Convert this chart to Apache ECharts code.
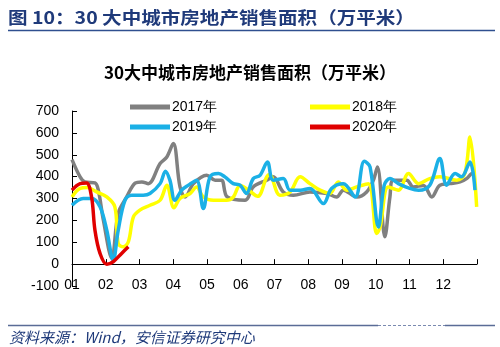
<!DOCTYPE html>
<html><head><meta charset="utf-8">
<script src="https://cdn.jsdelivr.net/npm/echarts@6/dist/echarts.min.js"></script>
<style>html,body{margin:0;padding:0;background:#fff}#c{width:500px;height:347px}</style>
</head><body><div id="c"></div>
<script>
// month positions (0 = start of Jan, 12 = end of Dec) and values (万平米)
const monthLabels = ['01','02','03','04','05','06','07','08','09','10','11','12'];
const yTicks = [-100,0,100,200,300,400,500,600,700];

const x2017 = [0,0.24,0.38,0.68,0.78,0.93,1.18,1.37,1.62,1.87,2.07,2.26,2.61,2.81,3.0,3.2,3.35,3.6,3.99,4.24,4.43,4.6,5.13,5.37,5.77,5.96,6.26,6.56,7.05,7.55,7.84,8.04,8.44,8.73,8.93,9.05,9.27,9.42,9.52,9.92,10.11,10.41,10.66,10.9,11.2,11.5,11.69,11.84,11.95];
const v2017 = [478,399,376,371,338,201,27,233,307,370,376,368,460,490,551,353,307,368,406,384,384,307,292,353,384,399,330,315,330,323,307,338,307,330,384,444,125,307,384,384,353,360,307,361,368,376,391,414,420];

const x2018 = [0,0.24,0.45,0.73,1.03,1.27,1.37,1.52,1.67,1.82,2.01,2.31,2.61,2.81,3.02,3.2,3.5,3.69,3.89,4.19,4.58,4.78,4.98,5.22,5.5,5.77,5.85,6.16,6.46,6.76,7.05,7.35,7.64,7.89,8.14,8.44,8.78,9.03,9.13,9.37,9.67,9.97,10.27,10.6,10.9,11.4,11.64,11.79,11.99];
const v2018 = [307,346,350,330,307,262,94,79,102,216,247,269,292,361,258,300,323,353,307,292,292,307,360,340,310,399,410,315,330,399,368,338,323,376,338,353,368,140,170,353,338,414,368,391,399,384,414,581,262];

const x2019 = [0,0.33,0.58,0.83,1.03,1.22,1.37,1.57,1.77,2.11,2.31,2.61,2.77,2.9,3.05,3.25,3.45,3.69,3.89,4.09,4.34,4.53,4.78,4.98,5.17,5.37,5.57,5.79,5.96,6.26,6.46,6.76,7.05,7.45,7.69,8.04,8.39,8.66,8.83,9.08,9.25,9.42,9.67,10.01,10.27,10.6,10.9,11.1,11.35,11.54,11.79,11.94];
const v2019 = [269,300,300,262,155,18,155,292,315,315,323,368,425,384,292,338,361,384,254,399,414,399,368,361,323,391,406,467,384,391,338,338,346,277,346,368,307,470,445,170,360,391,368,346,338,361,483,361,414,399,467,338];

const x2020 = [0,0.24,0.43,0.58,0.68,0.83,1.03,1.22,1.47,1.67];
const v2020 = [338,368,371,307,155,49,-1,11,49,79];

const pairs = (xs, vs) => xs.map((x, i) => [x, vs[i]]);

const chart = echarts.init(document.getElementById('c'), null, {renderer: 'canvas'});
const txt = '#000';
const font = 'Liberation Sans, Arial, sans-serif';
const mk = (name, xs, vs, color) => ({
  name, type: 'line', data: pairs(xs, vs), smooth: 0.35, symbol: 'none',
  lineStyle: {color, width: 3.5}, itemStyle: {color}
});
const legendText = {fontSize: 14, color: txt, fontFamily: font, padding: [0, 0, 0, -3]};
chart.setOption({
  animation: false,
  backgroundColor: '#fff',
  textStyle: {fontFamily: font},
  title: {
    text: '30大中城市房地产销售面积（万平米）',
    left: 'center', top: 59,
    textStyle: {fontSize: 17, fontWeight: 'bold', color: '#000', fontFamily: 'Noto Sans CJK SC'}
  },
  legend: [
    {data: ['2017年','2019年'], orient: 'vertical', left: 125, top: 95, itemGap: 6,
     itemWidth: 40, itemHeight: 5, icon: 'rect', textStyle: legendText},
    {data: ['2018年','2020年'], orient: 'vertical', left: 305, top: 95, itemGap: 6,
     itemWidth: 40, itemHeight: 5, icon: 'rect', textStyle: legendText}
  ],
  grid: {left: 72, right: 23, top: 111, bottom: 61, containLabel: false},
  xAxis: {
    type: 'value', min: 0, max: 12, interval: 1,
    axisLine: {onZero: true, lineStyle: {color: '#000', width: 1}},
    axisTick: {inside: true, length: 5, lineStyle: {color: '#000'}},
    axisLabel: {fontSize: 14, color: txt, margin: -8,
      formatter: v => (v < 12 ? monthLabels[v] : '')},
    splitLine: {show: false}
  },
  yAxis: {
    type: 'value', min: yTicks[0], max: yTicks[yTicks.length - 1], interval: 100,
    axisLine: {show: true, lineStyle: {color: '#000', width: 1}},
    axisTick: {show: true, inside: true, length: 5, lineStyle: {color: '#000'}},
    axisLabel: {fontSize: 14, color: txt, margin: 13},
    splitLine: {show: false}
  },
  series: [
    mk('2017年', x2017, v2017, '#808080'),
    mk('2018年', x2018, v2018, '#FFFF00'),
    mk('2019年', x2019, v2019, '#1BB0E6'),
    mk('2020年', x2020, v2020, '#E00000')
  ],
  graphic: [
    {type: 'text', x: 8, y: 9, scaleX: 1.15, style: {text: '图 10：30 大中城市房地产销售面积（万平米）',
      font: 'bold 17px "Noto Sans CJK SC", sans-serif', fill: '#1F3A7A'}},
    {type: 'line', shape: {x1: 8, y1: 30.5, x2: 495, y2: 30.5}, style: {stroke: '#2F4F8F', lineWidth: 1.5}},
    {type: 'line', shape: {x1: 8, y1: 325.5, x2: 378, y2: 325.5}, style: {stroke: '#5A6C96', lineWidth: 1.5}},
    {type: 'line', shape: {x1: 378, y1: 325.5, x2: 445, y2: 325.5}, style: {stroke: '#7A8AB0', lineWidth: 1.2, lineDash: [3, 2]}},
    {type: 'line', shape: {x1: 445, y1: 325.5, x2: 495, y2: 325.5}, style: {stroke: '#5A6C96', lineWidth: 1.5}},
    {type: 'text', left: 9, top: 330, style: {text: '资料来源：Wind，安信证券研究中心',
      font: 'italic 15px "Noto Sans CJK SC", sans-serif', fill: '#1F3A7A'}}
  ]
});
</script></body></html>
